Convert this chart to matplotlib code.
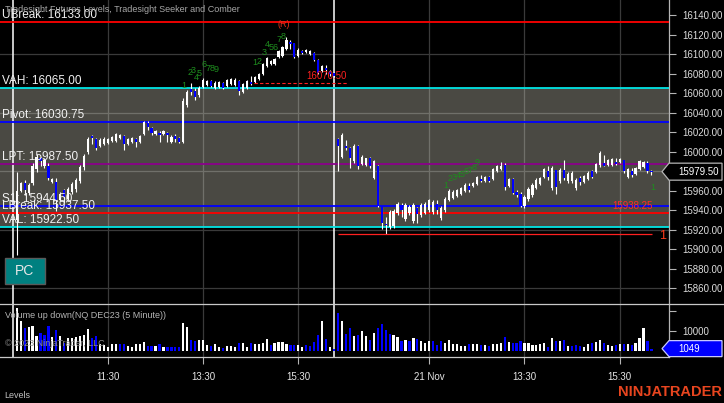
import numpy as np
import matplotlib.pyplot as plt
from matplotlib import transforms
from matplotlib.patches import Rectangle, Polygon
from matplotlib.lines import Line2D

plt.rcParams['font.family'] = ['Liberation Sans', 'DejaVu Sans']

# NQ DEC23 5 minute bars, two sessions (bars 0-80 and 81-160)
opens = [15930, 15960, 15968, 15958, 15968, 15982, 15994, 15985, 15985, 15969,
         15969, 15950, 15961, 15952, 15959, 15962, 15970, 15984, 16000, 16016,
         16013, 16006, 16008, 16009, 16011, 16011, 16014, 16016, 16008, 16010,
         16013, 16010, 16018, 16029, 16024, 16018, 16019, 16018, 16019, 16010,
         16016, 16014, 16010, 16048, 16064, 16062, 16058, 16066, 16068, 16072,
         16065, 16066, 16070, 16067, 16069, 16068, 16072, 16061, 16065, 16071,
         16071, 16074, 16080, 16088, 16090, 16090, 16097, 16098, 16105, 16112,
         16111, 16098, 16103, 16102, 16100, 16101, 16094, 16083, 16086, 16083,
         16081,
         16013, 15995, 16006, 16004, 15990, 16006, 15987, 15986, 15994, 15973,
         15985, 15943, 15926, 15923, 15924, 15937, 15945, 15931, 15937, 15929,
         15942, 15935, 15937, 15940, 15938, 15946, 15932, 15940, 15950, 15953,
         15955, 15957, 15960, 15965, 15965, 15967, 15972, 15970, 15974, 15972,
         15980, 15982, 15986, 15965, 15972, 15959, 15957, 15944, 15951, 15956,
         15963, 15967, 15974, 15980, 15963, 15981, 15970, 15981, 15970, 15970,
         15963, 15973, 15969, 15972, 15980, 15979, 15986, 15988, 15986, 15986,
         15989, 15989, 15991, 15974, 15980, 15977, 15982, 15984, 15988, 15980.5]
highs = [15979, 15969, 15971, 15968, 15988, 15998, 15995, 15993, 15988, 15973,
         15973, 15959, 15962, 15964, 15969, 15973, 15986, 15998, 16015, 16017,
         16014, 16014, 16015, 16014, 16016, 16019, 16018, 16017, 16014, 16015,
         16014, 16017, 16031, 16031, 16025, 16022, 16021, 16022, 16020, 16017,
         16018, 16015, 16055, 16063, 16070, 16065, 16067, 16075, 16073, 16073,
         16072, 16072, 16071, 16074, 16075, 16075, 16073, 16070, 16073, 16078,
         16078, 16081, 16091, 16097, 16094, 16096, 16104, 16108, 16117, 16114,
         16111, 16106, 16104, 16105, 16104, 16102, 16095, 16089, 16089, 16084,
         16082,
         16014, 16019, 16012, 16005, 16008, 16007, 15997, 15994, 15995, 15991,
         15986, 15943, 15933, 15940, 15941, 15948, 15947, 15947, 15945, 15947,
         15943, 15947, 15948, 15952, 15950, 15950, 15944, 15954, 15962, 15961,
         15962, 15964, 15968, 15968, 15969, 15975, 15976, 15975, 15975, 15983,
         15986, 15989, 15988, 15973, 15973, 15961, 15959, 15956, 15964, 15968,
         15973, 15974, 15983, 15985, 15985, 15981, 15983, 15991, 15979, 15980,
         15973, 15975, 15976, 15980, 15981, 15988, 16001, 15997, 15992, 15993,
         15993, 15993, 15991, 15983, 15983, 15984, 15991, 15990, 15990, 15981]
lows = [15894, 15959, 15956, 15956, 15966, 15979, 15985, 15983, 15971, 15968,
        15939, 15949, 15947, 15950, 15957, 15959, 15968, 15981, 15998, 16008,
        16002, 16005, 16007, 16008, 16010, 16010, 16013, 16002, 16007, 16009,
        16005, 16009, 16017, 16022, 16017, 16017, 16010, 16017, 16010, 16009,
        16010, 16009, 16009, 16046, 16058, 16053, 16056, 16065, 16067, 16066,
        16064, 16065, 16064, 16066, 16068, 16067, 16058, 16060, 16064, 16068,
        16070, 16073, 16079, 16087, 16089, 16089, 16096, 16097, 16104, 16105,
        16096, 16097, 16100, 16101, 16099, 16093, 16080, 16082, 16080, 16078,
        16077,
        15980, 15993, 16002, 15983, 15988, 15982, 15986, 15985, 15983, 15972,
        15943, 15921, 15916, 15921, 15922, 15935, 15933, 15929, 15935, 15927,
        15927, 15933, 15936, 15938, 15936, 15936, 15930, 15938, 15949, 15952,
        15954, 15956, 15959, 15959, 15964, 15966, 15969, 15969, 15969, 15971,
        15979, 15981, 15961, 15964, 15957, 15954, 15943, 15942, 15949, 15954,
        15962, 15966, 15973, 15971, 15961, 15957, 15968, 15971, 15968, 15968,
        15961, 15966, 15968, 15971, 15973, 15978, 15984, 15985, 15985, 15985,
        15986, 15988, 15978, 15973, 15974, 15976, 15981, 15983, 15978, 15976]
closes = [15960, 15968, 15961, 15966, 15985, 15995, 15990, 15991, 15973, 15972,
          15950, 15957, 15954, 15962, 15967, 15971, 15984, 15996, 16013, 16014,
          16004, 16012, 16013, 16013, 16015, 16018, 16017, 16008, 16013, 16014,
          16010, 16016, 16030, 16025, 16019, 16021, 16017, 16021, 16017, 16015,
          16013, 16010, 16052, 16061, 16061, 16056, 16065, 16073, 16072, 16067,
          16070, 16071, 16065, 16073, 16074, 16073, 16062, 16069, 16072, 16069,
          16077, 16080, 16090, 16096, 16093, 16095, 16103, 16107, 16114, 16110,
          16097, 16104, 16101, 16104, 16103, 16094, 16081, 16088, 16084, 16080,
          16078,
          16006, 16017, 16004, 15994, 16006, 15985, 15995, 15993, 15985, 15990,
          15944, 15927, 15925, 15938, 15939, 15946, 15940, 15945, 15943, 15945,
          15936, 15945, 15946, 15950, 15948, 15940, 15942, 15952, 15960, 15959,
          15961, 15963, 15966, 15961, 15968, 15974, 15970, 15974, 15970, 15982,
          15985, 15985, 15964, 15972, 15958, 15956, 15944, 15954, 15962, 15966,
          15971, 15973, 15982, 15974, 15983, 15964, 15981, 15973, 15977, 15978,
          15971, 15969, 15975, 15978, 15974, 15987, 15999, 15985, 15991, 15992,
          15987, 15992, 15980, 15982, 15976, 15983, 15990, 15989, 15980, 15979.5]
volumes = [21700, 15300, 11300, 12000, 12500, 7300, 9000, 8000, 12500, 6700,
           10300, 7300, 3700, 6200, 6200, 6700, 7300, 8200, 11200, 6500,
           7300, 3300, 2800, 2000, 3200, 3200, 3300, 3300, 2500, 2000,
           3200, 3200, 4200, 2500, 2500, 2300, 3300, 2000, 1700, 1700,
           1700, 1700, 14200, 12000, 5300, 4800, 5300, 5300, 2800, 2300,
           3300, 2000, 1200, 2300, 2300, 2000, 3700, 3700, 2000, 4000,
           3200, 3200, 4000, 5800, 2800, 3700, 4500, 4500, 3200, 2800,
           2800, 2800, 2000, 2800, 2300, 4500, 8000, 15000, 5800, 2000,
           700,
           19000, 15000, 8300, 11300, 7300, 8000, 9800, 7300, 5300, 9000,
           11300, 13800, 10300, 8300, 7800, 6700, 4800, 5300, 4800, 6200,
           5800, 4800, 4000, 4800, 4800, 2800, 4800, 4000, 5300, 3300,
           3300, 2500, 2500, 3300, 3300, 3300, 2800, 2800, 2300, 3300,
           3300, 4000, 6700, 4500, 4000, 4000, 4800, 4000, 4000, 2800,
           2800, 3300, 4000, 1700, 6500, 4800, 4800, 5500, 2300, 2300,
           2800, 2300, 2000, 3300, 4000, 4500, 5300, 3700, 2800, 2300,
           2800, 3300, 3300, 3300, 2800, 4000, 6300, 11300, 4800, 1049]
vol_dir = ("uuduuudddu" "duduuuuuud" "duuuuudduu" "uuuddududd" "dduudduuud"
           "uuduuuduud" "uuuuduuuud" "duuddddudu" "d"
           "dudduduudu" "dddduududu" "duuuddduuu" "uuuduududu" "uududdduuu"
           "uuudududud" "dduuduuduu" "dududuuudd")

level_names = ['UBreak', 'VAH', 'Pivot', 'LPT', 'S1', 'LBreak', 'VAL']
level_values = [16133.00, 16065.00, 16030.75, 15987.50, 15944.50, 15937.50, 15922.50]
level_colors = ['#ff0000', '#00e5e5', '#0000ff', '#8b008b', '#0000ff', '#ff0000', '#00e5e5']

time_ticks = [23, 47, 71, 104, 128, 152]
time_labels = ['11:30', '13:30', '15:30', '21 Nov', '13:30', '15:30']
session_breaks = [-0.85, 80]
price_ticks = [p for p in range(15860, 16141, 20) if p != 15980]
grid_prices = [15860, 15920, 15980, 16040, 16100]

# Tradesight Seeker counts (bar, price, label)
seek_x = [42.2, 43.7, 44.4, 45.2, 46.0, 47.2, 48.2, 49.2, 50.2,
          60.1, 61.1, 62.3, 63.1, 64.1, 65.1, 66.1, 67.1,
          108.2, 109.2, 110.2, 111.2, 112.2, 113.2, 114.3, 115.3, 116.0,
          160.4]
seek_y = [16067.3, 16080.6, 16082.7, 16076.5, 16079.6, 16089.8, 16085.7, 16085.7, 16083.7,
          16090.9, 16091.9, 16101.1, 16109.3, 16107.2, 16107.2, 16115.4, 16118.5,
          15965.8, 15973.0, 15974.0, 15975.1, 15976.1, 15979.2, 15981.2, 15983.3, 15988.4,
          15962.8]
seek_txt = list('123456789') + list('12345678') + list('123456789') + ['1']

target_price = 16070.50
target_span = (59.8, 83.3)
low_price = 15916.0
low_span = (81, 160.2)
comber_price = 15938.25

W, H = 724, 403
fig = plt.figure(figsize=(W / 100, H / 100), dpi=100, facecolor='black')
ax = fig.add_axes([0, 99 / H, 668.5 / W, 304 / H], facecolor='black')
axv = fig.add_axes([0, 46 / H, 668.5 / W, 53 / H], facecolor='black')

x = np.arange(len(opens))
o = np.array(opens, float); c = np.array(closes, float)
hi = np.array(highs, float); lo = np.array(lows, float)
up = c >= o

xlim = (-4.21, 164.3)
ax.set_xlim(*xlim)
ax.set_ylim(15843.9, 16155.4)
axv.set_xlim(*xlim)
axv.set_ylim(-3200, 23700)

# grid
for gp in grid_prices:
    ax.axhline(gp, color='#3a3a3a', lw=0.9, zorder=0.5)
for t in time_ticks:
    ax.axvline(t, color='#3a3a3a', lw=0.9, zorder=0.5)
    axv.axvline(t, color='#3a3a3a', lw=0.9, zorder=0.5)
for sb in session_breaks:
    ax.axvline(sb, color='white', lw=1.1, zorder=2)
    axv.axvline(sb, color='white', lw=1.1, zorder=2)

# value area band
ax.axhspan(level_values[6], level_values[1], fc=(0.86, 0.85, 0.78), alpha=0.34, lw=0, zorder=1)

# levels
lbl_tr = transforms.offset_copy(transforms.blended_transform_factory(ax.transAxes, ax.transData),
                                fig=fig, x=0, y=1, units='dots')
for name, val, col in zip(level_names, level_values, level_colors):
    ax.axhline(val, color=col, lw=1.3, zorder=3)
    ax.text(0.003, val, f'{name}: {val:.2f}', transform=lbl_tr, color='#f2f2f2',
            fontsize=8.5, va='bottom', ha='left', zorder=6)

# candles
ax.vlines(x, lo, hi, color='white', lw=0.8, zorder=4)
body = np.maximum(np.abs(c - o), 0.8)
ax.bar(x, body, bottom=np.minimum(o, c), width=0.55,
       color=np.where(up, 'white', '#0000ff'), lw=0, zorder=5)

# seeker / comber annotations
for sx, sy, st in zip(seek_x, seek_y, seek_txt):
    ax.text(sx, sy, st, color='#1e8c1e', fontsize=6.5, ha='center', va='center', zorder=6)
ax.text(67.4, 16129.8, '(R)', color='#e8301c', fontsize=6.5, ha='center', va='center', zorder=6)
ax.hlines(target_price, *target_span, colors='#ff2020', linestyles=(0, (3, 2)), lw=0.8, zorder=6)
ax.text(target_span[1], target_price + 1.5, f'{target_price:.2f}', color='#ff2020',
        fontsize=7, ha='right', va='bottom', zorder=6)
ax.hlines(low_price, *low_span, colors='#ff2020', lw=0.9, zorder=6)
ax.text(162.0, low_price - 2, '1', color='#ff3a1a', fontsize=9, ha='left', va='center', zorder=6)
ax.text(160.4, comber_price + 0.5, f'{comber_price:.2f}', color='#ff2a2a',
        fontsize=7, ha='right', va='bottom', zorder=6)

# volume
vup = np.array([d == 'u' for d in vol_dir])
axv.bar(x, volumes, width=0.55, color=np.where(vup, 'white', '#0000ff'), lw=0, zorder=3)

# axes styling
for a in (ax, axv):
    a.yaxis.tick_right()
    for s in ('left', 'top', 'bottom'):
        a.spines[s].set_visible(False)
    a.spines['right'].set_color('#b4b4b4')
    a.spines['right'].set_linewidth(0.9)
axv.spines['bottom'].set_visible(True)
axv.spines['bottom'].set_color('#c8c8c8')
axv.spines['bottom'].set_linewidth(0.9)

ax.set_xticks([])
ax.set_yticks(price_ticks, [f'{p:.2f}' for p in price_ticks])
ax.tick_params(axis='y', colors='#b4b4b4', labelcolor='#dcdcdc', length=5, width=0.8,
               pad=5, labelsize=7)
axv.set_yticks([10000, 20000], ['10000', ''])
axv.tick_params(axis='y', colors='#b4b4b4', labelcolor='#dcdcdc', length=5, width=0.8,
                pad=5, labelsize=7)
axv.set_xticks(time_ticks, time_labels)
axv.tick_params(axis='x', colors='#b4b4b4', labelcolor='#e6e6e6', length=5, width=0.8,
                pad=6, labelsize=7)

# panel separator line across full width
fig.add_artist(Line2D([0, 1], [1 - 304 / H, 1 - 304 / H], transform=fig.transFigure,
                      color='#c8c8c8', lw=0.9))


def marker(a, value, text, fc, ec, tc, half=8.5):
    tr = transforms.blended_transform_factory(fig.transFigure, a.transData)
    y0, y1 = a.get_ylim()
    ppx = (y1 - y0) / (a.get_position().height * H)
    hh = half * ppx
    xs = np.array([662, 669, 722, 722, 669]) / W
    ys = [value, value + hh, value + hh, value - hh, value - hh]
    a.add_patch(Polygon(list(zip(xs, ys)), closed=True, transform=tr, fc=fc, ec=ec,
                        lw=0.9, clip_on=False, zorder=10))
    a.text(678 / W, value, text, transform=tr, ha='left', va='center', color=tc,
           fontsize=7, clip_on=False, zorder=11)


marker(ax, closes[-1], f'{closes[-1]:.2f}', 'black', '#b4b4b4', 'white')
marker(axv, volumes[-1], f'{volumes[-1]}', '#0000ff', '#c8c8ff', 'white', half=8)

# PC button
ax.add_patch(Rectangle((5 / 668.5, 1 - 284 / 304), 40 / 668.5, 26 / 304, transform=ax.transAxes,
                       fc='#008080', ec='#5a5a5a', lw=1, zorder=8))
ax.text(25 / 668.5, 1 - 271 / 304, 'PC', transform=ax.transAxes, color='#e8e8e8', fontsize=10,
        ha='center', va='center', zorder=9)

# header / footer texts
fig.text(5 / W, 1 - 10 / H, 'Tradesight Futures Levels, Tradesight Seeker and Comber',
         color='#a8a8a8', fontsize=6.5, ha='left', va='center')
fig.text(5 / W, 1 - 316 / H, 'Volume up down(NQ DEC23 (5 Minute))', color='#b4b4b4',
         fontsize=6.5, ha='left', va='center')
fig.text(5 / W, 1 - 343 / H, '\u00a9 2023 NinjaTrader, LLC', color='#8c8c8c',
         fontsize=6.5, ha='left', va='center')
fig.text(4 / W, 1 - 395 / H, 'Levels', color='#c0c0c0', fontsize=6.5, ha='left', va='center')
fig.text(722 / W, 1 - 392 / H, 'NINJATRADER', color='#e8451f', fontsize=10.5,
         fontweight='bold', ha='right', va='center')

fig.savefig('out.png', dpi=100, facecolor='black')
